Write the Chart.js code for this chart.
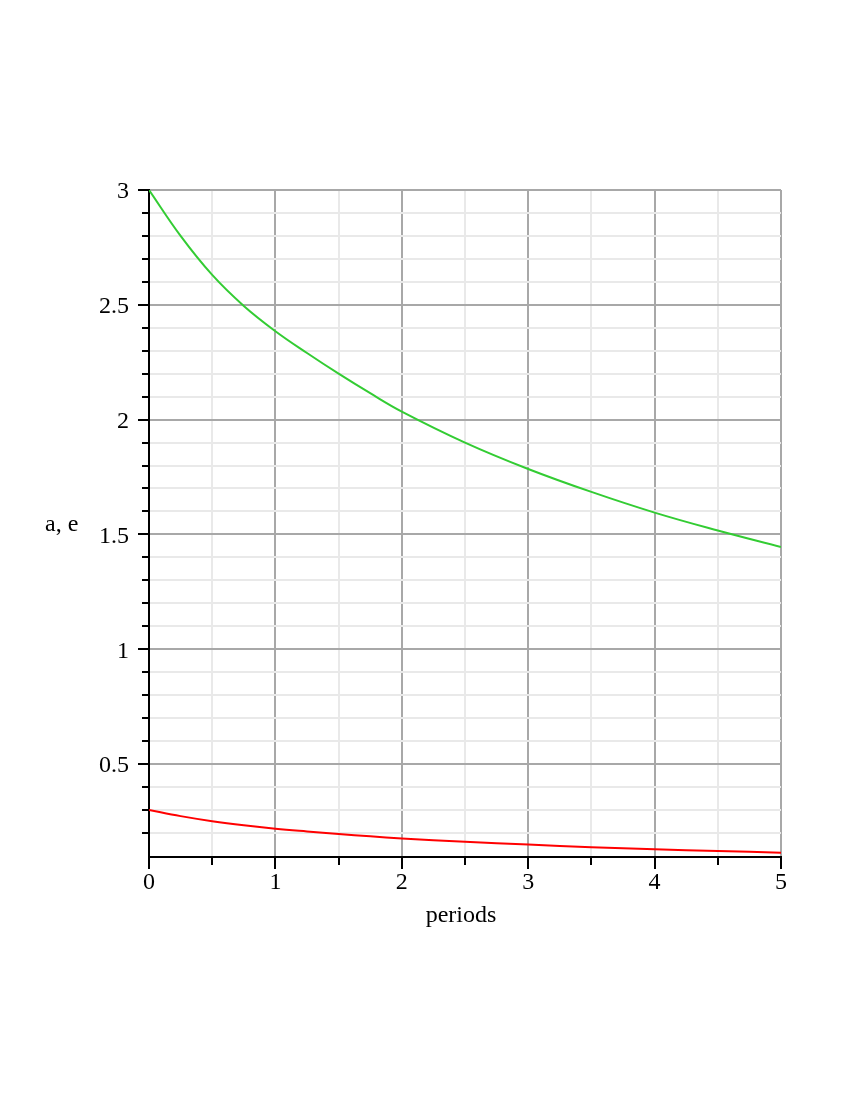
<!DOCTYPE html>
<html>
<head>
<meta charset="utf-8">
<title>a, e vs periods</title>
<script src="https://cdn.jsdelivr.net/npm/chart.js@4.4.0/dist/chart.umd.min.js"></script>
<style>
    body { margin: 0; background: #fff; }
    #wrap { width: 850px; height: 1100px; }
</style>
</head>
<body>
<div id="wrap"><canvas id="orbitChart"></canvas></div>
<script>

// valores
var periods = [0, 0.25, 0.5, 0.75, 1, 1.25, 1.5, 1.75, 2, 2.5, 3, 3.5, 4, 4.5, 5];
var aValues = [3.00, 2.80, 2.63, 2.495, 2.385, 2.29, 2.20, 2.115, 2.035, 1.90, 1.785, 1.685, 1.595, 1.517, 1.445];
var eValues = [0.300, 0.273, 0.251, 0.233, 0.218, 0.206, 0.195, 0.185, 0.176, 0.161, 0.149, 0.138, 0.129, 0.121, 0.114];

var xTicks = [0, 0.5, 1, 1.5, 2, 2.5, 3, 3.5, 4, 4.5, 5];
var xMajors = [0, 1, 2, 3, 4, 5];
var xTickLabels = ['0', '1', '2', '3', '4', '5'];

var yTicks = [0.2, 0.3, 0.4, 0.5, 0.6, 0.7, 0.8, 0.9, 1, 1.1, 1.2, 1.3, 1.4, 1.5, 1.6, 1.7, 1.8, 1.9, 2,
    2.1, 2.2, 2.3, 2.4, 2.5, 2.6, 2.7, 2.8, 2.9, 3];
var yMajors = [0.5, 1, 1.5, 2, 2.5, 3];
var yTickLabels = ['0.5', '1', '1.5', '2', '2.5', '3'];

var xMin = 0, xMax = 5;
var yMin = 0.095, yMax = 3;

function majorIndex(value, majors) {
    for (var i = 0; i < majors.length; i++) {
        if (Math.abs(majors[i] - value) < 1e-6) return i;
    }
    return -1;
}

function gridColor(majors) {
    return function (context) {
        if (!context.tick) return '#e9e9e9';
        return majorIndex(context.tick.value, majors) >= 0 ? '#a8a8a8' : '#e9e9e9';
    };
}

// marcas dos eixos e titulos (o titulo do eixo y fica na horizontal)
var axisMarks = {
    id: 'axisMarks',
    afterDraw: function (chart) {
        var ctx = chart.ctx;
        var area = chart.chartArea;
        var xs = chart.scales.x;
        var ys = chart.scales.y;

        ctx.save();
        ctx.strokeStyle = '#000';
        ctx.lineWidth = 2;
        ctx.beginPath();
        xTicks.forEach(function (v) {
            var px = Math.round(xs.getPixelForValue(v));
            var len = majorIndex(v, xMajors) >= 0 ? 12 : 8;
            ctx.moveTo(px, area.bottom);
            ctx.lineTo(px, area.bottom + len);
        });
        yTicks.forEach(function (v) {
            var py = Math.round(ys.getPixelForValue(v));
            var len = majorIndex(v, yMajors) >= 0 ? 11 : 7;
            ctx.moveTo(area.left - len, py);
            ctx.lineTo(area.left, py);
        });
        ctx.stroke();

        ctx.fillStyle = '#000';
        ctx.font = '24px "Liberation Serif", "Times New Roman", serif';
        ctx.textAlign = 'center';
        ctx.textBaseline = 'alphabetic';
        ctx.fillText('periods', (area.left + area.right) / 2 - 4, area.bottom + 65);

        ctx.textAlign = 'left';
        ctx.textBaseline = 'middle';
        ctx.fillText('a, e', area.left - 104, (area.top + area.bottom) / 2 + 1);
        ctx.restore();
    }
};

Chart.defaults.font.family = '"Liberation Serif", "Times New Roman", serif';
Chart.defaults.font.size = 24;
Chart.defaults.color = '#000';

var ctxOrbit = document.getElementById('orbitChart').getContext('2d');
var orbitChart = new Chart(ctxOrbit, {
    type: 'line',
    data: {
        datasets: [{
            label: 'a',
            data: periods.map(function (p, i) { return { x: p, y: aValues[i] }; }),
            borderColor: 'rgb(51, 204, 51)',
            borderWidth: 2,
            pointRadius: 0,
            tension: 0.4,
            fill: false
        }, {
            label: 'e',
            data: periods.map(function (p, i) { return { x: p, y: eValues[i] }; }),
            borderColor: 'rgb(255, 0, 0)',
            borderWidth: 2,
            pointRadius: 0,
            tension: 0.4,
            fill: false
        }]
    },
    options: {
        responsive: true,
        maintainAspectRatio: false,
        animation: false,
        layout: {
            padding: { left: 89, right: 69, top: 190, bottom: 183 }
        },
        plugins: {
            legend: { display: false },
            tooltip: { enabled: false }
        },
        scales: {
            x: {
                type: 'linear',
                min: xMin,
                max: xMax,
                afterBuildTicks: function (scale) {
                    scale.ticks = xTicks.map(function (v) { return { value: v }; });
                },
                afterFit: function (scale) { scale.height = 60; },
                ticks: {
                    autoSkip: false,
                    maxRotation: 0,
                    padding: 11,
                    callback: function (value) {
                        var i = majorIndex(value, xMajors);
                        return i >= 0 ? xTickLabels[i] : '';
                    }
                },
                grid: {
                    drawTicks: false,
                    color: gridColor(xMajors),
                    lineWidth: 2
                },
                border: { color: '#000', width: 2 }
            },
            y: {
                type: 'linear',
                min: yMin,
                max: yMax,
                afterBuildTicks: function (scale) {
                    scale.ticks = yTicks.map(function (v) { return { value: v }; });
                },
                afterFit: function (scale) { scale.width = 60; },
                ticks: {
                    autoSkip: false,
                    padding: 20,
                    labelOffset: 2,
                    callback: function (value) {
                        var i = majorIndex(value, yMajors);
                        return i >= 0 ? yTickLabels[i] : '';
                    }
                },
                grid: {
                    drawTicks: false,
                    color: gridColor(yMajors),
                    lineWidth: 2
                },
                border: { color: '#000', width: 2 }
            }
        }
    },
    plugins: [axisMarks]
});

</script>
</body>
</html>
